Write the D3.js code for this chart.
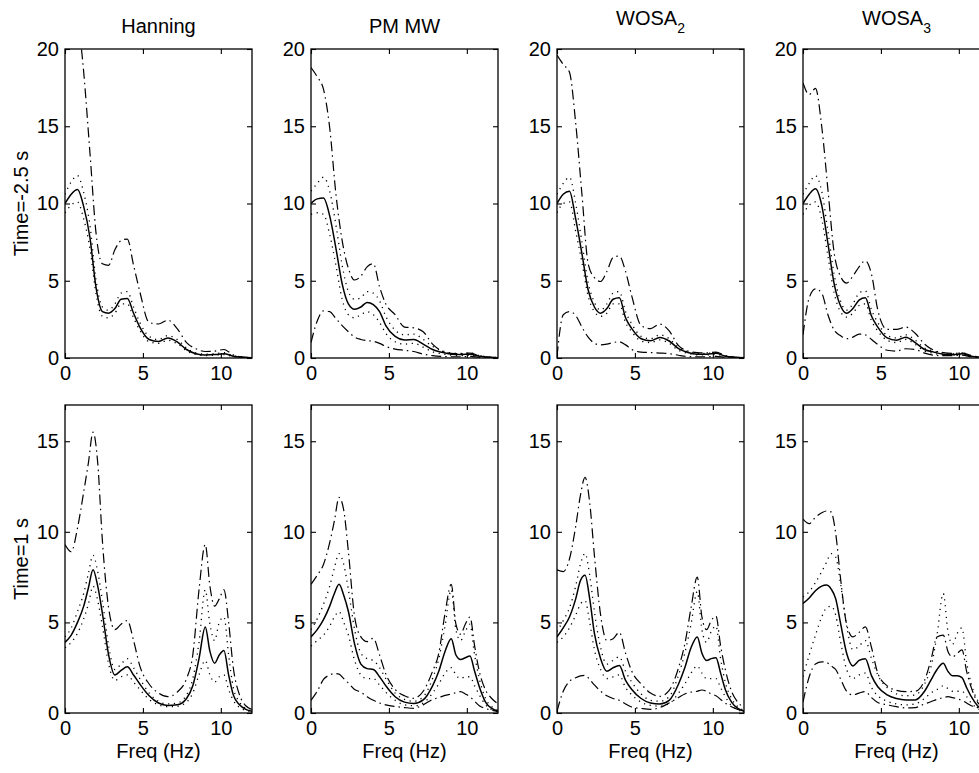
<!DOCTYPE html>
<html>
<head>
<meta charset="utf-8">
<script src="https://cdn.jsdelivr.net/npm/d3@7"></script>
<style>
  body { margin: 0; background: #fff; }
  text { font-family: "Liberation Sans", Arial, Helvetica, sans-serif; fill: #000; }
</style>
</head>
<body>
<svg id="chart" width="979" height="773"></svg>
<script>
// panel titles, subscripts and row labels
const methods = ["Hanning", "PM MW", "WOSA", "WOSA"];
const methodSubs = ["", "", "2", "3"];
const rowLabels = ["Time=-2.5 s", "Time=1 s"];
const yMax = [20, 17];
const yTickVals = [[0, 5, 10, 15, 20], [0, 5, 10, 15]];
const xTickVals = [0, 5, 10];

// frequency grids (Hz)
const freqTop = [0,0.4,0.8,1.2,1.6,2.0,2.4,2.8,3.2,3.6,4.0,4.4,4.8,5.4,6.0,6.6,7.2,7.8,8.4,9.0,9.6,10.2,10.8,11.4,12];
const freqBot = [0,0.4,0.8,1.2,1.5,1.8,2.1,2.4,2.8,3.2,3.6,4.0,4.4,4.8,5.4,6.0,6.6,7.2,7.8,8.2,8.6,9.0,9.3,9.6,9.9,10.2,10.5,10.8,11.2,11.6,12];

// top row (Time=-2.5 s), one row per method
const meanTop = [
  [10.0,10.6,10.9,9.8,7.8,4.5,3.0,2.9,3.2,3.8,3.85,2.9,2.0,1.2,1.07,1.3,1.05,0.55,0.28,0.2,0.22,0.28,0.12,0.05,0.02],
  [10.0,10.3,10.35,9.2,7.1,4.8,3.5,3.15,3.3,3.6,3.45,3.0,2.1,1.4,1.17,1.2,0.9,0.55,0.37,0.25,0.22,0.25,0.12,0.05,0.02],
  [10.0,10.6,10.8,9.0,6.75,4.4,3.3,2.9,3.2,3.8,3.9,2.6,1.9,1.25,1.12,1.33,1.1,0.6,0.35,0.25,0.25,0.3,0.12,0.05,0.02],
  [10.0,10.6,10.95,9.9,7.4,4.8,3.4,2.9,3.2,3.75,3.9,2.7,2.0,1.3,1.15,1.35,1.0,0.55,0.38,0.25,0.22,0.28,0.12,0.05,0.02]
];
const dashHiTop = [
  [30,27,22.5,18.5,13.3,8.0,6.1,6.0,7.0,7.6,7.7,6.0,4.3,2.3,2.2,2.45,1.9,1.0,0.6,0.42,0.45,0.55,0.2,0.06,0.02],
  [18.8,18.2,17.4,14.9,10.6,7.6,5.8,5.05,5.3,5.9,6.1,4.6,3.5,2.8,2.0,1.95,1.7,0.9,0.45,0.3,0.28,0.32,0.15,0.06,0.02],
  [19.6,19.0,18.5,15.2,10.6,6.1,5.2,4.95,5.6,6.5,6.6,5.6,4.0,2.1,1.9,2.2,1.75,0.8,0.45,0.35,0.33,0.38,0.15,0.05,0.02],
  [17.8,17.05,17.45,15.0,10.9,6.8,5.3,4.85,5.3,5.9,6.3,5.4,3.1,1.85,1.85,2.0,1.6,0.9,0.5,0.35,0.3,0.33,0.15,0.05,0.02]
];
const dashLoTop = [
  null,
  [1.0,2.4,3.05,3.0,2.55,2.1,1.7,1.35,1.2,1.12,1.08,0.95,0.75,0.58,0.5,0.42,0.25,0.15,0.1,0.08,0.08,0.1,0.05,0.02,0.01],
  [0.1,2.8,3.0,2.75,2.0,1.35,0.95,0.85,0.9,1.0,1.05,0.85,0.55,0.38,0.35,0.32,0.28,0.18,0.1,0.08,0.08,0.1,0.05,0.02,0.01],
  [1.5,3.9,4.48,4.2,2.8,1.8,1.45,1.25,1.35,1.55,1.5,1.2,0.87,0.5,0.45,0.6,0.55,0.32,0.18,0.15,0.15,0.18,0.08,0.03,0.01]
];
const dotHiTop = [
  [10.6,11.4,11.8,10.7,8.6,5.0,3.3,3.1,3.5,4.2,4.3,3.3,2.3,1.4,1.2,1.45,1.2,0.65,0.33,0.25,0.27,0.35,0.15,0.06,0.03],
  [10.8,11.3,11.7,10.8,8.6,6.0,4.3,3.8,3.9,4.3,4.2,3.7,2.7,1.8,1.5,1.55,1.2,0.75,0.48,0.32,0.3,0.33,0.16,0.07,0.03],
  [10.6,11.3,11.7,10.0,7.5,4.9,3.6,3.1,3.5,4.2,4.3,3.0,2.2,1.4,1.25,1.5,1.25,0.7,0.4,0.3,0.3,0.35,0.15,0.06,0.03],
  [10.6,11.3,11.8,10.8,8.2,5.4,3.7,3.1,3.5,4.2,4.35,3.1,2.3,1.45,1.3,1.5,1.15,0.65,0.45,0.3,0.27,0.34,0.15,0.06,0.03]
];
const dotLoTop = [
  [9.4,9.9,10.1,9.0,7.1,4.1,2.7,2.6,2.9,3.5,3.5,2.6,1.8,1.05,0.95,1.15,0.92,0.47,0.23,0.16,0.18,0.22,0.09,0.04,0.01],
  [9.3,9.4,9.3,8.0,6.0,3.8,2.8,2.6,2.8,3.0,2.8,2.3,1.6,1.05,0.9,0.95,0.7,0.4,0.27,0.18,0.16,0.18,0.08,0.03,0.01],
  [9.4,10.0,10.1,8.2,6.2,4.0,3.0,2.7,2.9,3.5,3.5,2.3,1.7,1.1,1.0,1.17,0.95,0.5,0.3,0.2,0.2,0.25,0.1,0.04,0.01],
  [9.3,9.9,10.1,9.0,6.6,4.2,3.0,2.65,2.9,3.4,3.5,2.4,1.75,1.15,1.0,1.2,0.88,0.45,0.3,0.2,0.18,0.22,0.09,0.04,0.01]
];

// bottom row (Time=1 s)
const meanBot = [
  [3.9,4.3,5.0,5.9,6.9,7.9,7.0,5.5,3.2,2.1,2.35,2.55,2.1,1.6,0.95,0.55,0.42,0.45,0.8,1.5,3.0,4.75,3.4,2.75,3.2,3.45,2.1,1.0,0.45,0.2,0.1],
  [4.2,4.6,5.15,5.9,6.6,7.1,6.5,5.6,3.8,2.7,2.45,2.4,2.0,1.5,0.9,0.6,0.52,0.72,1.5,2.3,3.4,4.1,3.2,2.95,3.05,3.15,2.3,1.45,0.6,0.25,0.1],
  [4.2,4.7,5.3,6.3,7.3,7.6,6.3,4.4,3.0,2.3,2.5,2.62,1.8,1.3,0.8,0.55,0.5,0.7,1.6,2.5,3.6,4.2,3.3,2.9,3.0,3.05,2.2,1.3,0.6,0.25,0.1],
  [6.05,6.35,6.75,7.0,7.06,6.85,6.3,5.0,3.3,2.6,2.9,3.0,2.05,1.45,1.0,0.8,0.72,0.72,1.2,1.8,2.4,2.74,2.3,2.05,2.05,1.95,1.4,0.9,0.4,0.15,0.06]
];
const dashHiBot = [
  [9.3,8.9,10.2,12.2,13.8,15.5,13.8,9.5,5.8,4.6,4.9,5.1,4.0,2.6,1.6,1.1,0.9,1.15,1.9,3.2,6.8,9.3,7.0,5.9,6.3,6.8,5.0,2.5,1.0,0.4,0.2],
  [7.1,7.6,8.2,9.4,10.6,11.9,11.2,8.9,5.3,4.2,3.94,4.12,3.2,2.15,1.3,0.95,0.81,1.2,2.3,3.3,5.5,7.1,4.9,4.35,4.9,5.3,3.7,2.3,1.27,0.8,0.5],
  [7.9,7.8,8.5,10.3,12.0,13.0,11.6,8.7,5.4,4.0,4.1,4.45,3.3,2.3,1.6,1.1,0.92,1.25,2.5,3.8,5.8,7.5,5.3,4.6,5.1,5.35,3.7,2.4,1.2,0.6,0.3],
  [10.7,10.45,10.8,11.05,11.15,11.1,9.9,7.5,4.9,4.2,4.45,4.75,3.6,2.2,1.5,1.25,1.18,1.2,1.8,2.9,4.2,4.3,3.4,3.1,3.3,3.48,2.3,1.4,0.6,0.3,0.15]
];
const dashLoBot = [
  null,
  [0.7,1.2,1.85,2.1,2.18,2.15,1.9,1.65,1.3,1.15,0.9,0.7,0.55,0.45,0.36,0.3,0.26,0.45,0.75,0.85,0.97,1.05,1.12,1.18,1.05,0.9,0.65,0.4,0.25,0.15,0.1],
  [0.1,1.2,1.75,1.95,2.05,2.08,1.85,1.55,1.2,0.95,0.8,0.7,0.5,0.33,0.25,0.2,0.3,0.55,0.85,1.05,1.15,1.2,1.27,1.2,1.05,0.95,0.75,0.55,0.35,0.2,0.1],
  [0.6,2.0,2.7,2.82,2.8,2.6,2.4,1.9,1.2,1.0,1.1,1.18,0.85,0.58,0.45,0.35,0.28,0.3,0.5,0.62,0.75,0.85,0.9,0.85,0.78,0.7,0.55,0.4,0.3,0.2,0.1]
];
const dotHiBot = [
  [4.2,4.7,5.6,6.6,7.7,8.7,7.8,6.2,3.7,2.4,2.7,3.0,2.5,1.9,1.1,0.65,0.5,0.55,1.0,1.9,3.9,6.8,4.9,4.0,5.0,5.3,3.2,1.4,0.6,0.25,0.12],
  [4.6,5.2,6.0,7.0,8.0,8.8,8.2,6.8,4.6,3.3,3.0,2.9,2.5,1.9,1.1,0.75,0.65,0.9,1.9,3.0,4.8,6.8,4.6,4.0,4.5,4.9,3.2,1.9,0.8,0.35,0.15],
  [4.5,5.1,5.8,7.0,8.2,8.8,7.6,5.6,3.6,2.7,2.9,3.1,2.3,1.7,1.05,0.7,0.65,0.9,2.1,3.3,4.9,6.7,4.6,3.9,4.5,4.8,3.0,1.7,0.8,0.35,0.15],
  [6.4,6.7,7.2,7.8,8.3,8.8,8.6,7.2,4.8,3.5,3.7,4.0,3.0,2.1,1.4,1.05,0.95,1.0,1.6,2.5,4.3,6.6,4.5,3.8,4.4,4.7,2.8,1.6,0.7,0.3,0.12]
];
const dotLoBot = [
  [3.6,3.9,4.4,5.2,6.0,7.0,6.2,4.8,2.7,1.8,2.0,2.1,1.7,1.3,0.75,0.45,0.35,0.37,0.6,1.1,2.1,2.9,2.1,1.7,2.0,2.1,1.3,0.7,0.3,0.15,0.07],
  [3.7,4.0,4.3,4.8,5.3,5.6,5.0,4.3,2.9,2.1,1.9,1.9,1.55,1.15,0.7,0.45,0.4,0.55,1.1,1.6,2.2,2.5,2.1,1.9,2.0,2.0,1.5,1.0,0.45,0.18,0.07],
  [3.9,4.2,4.7,5.4,6.0,6.2,5.0,3.5,2.4,1.9,2.0,2.1,1.4,1.0,0.6,0.42,0.38,0.52,1.1,1.6,2.2,2.6,2.2,1.9,1.9,1.9,1.4,0.9,0.4,0.18,0.07],
  [2.0,3.2,4.3,5.3,5.8,5.9,5.4,4.0,2.4,1.9,2.1,2.2,1.4,0.95,0.65,0.5,0.45,0.5,0.8,1.1,1.3,1.5,1.35,1.2,1.2,1.2,0.9,0.55,0.25,0.1,0.05]
];

const rows = [
  { freq: freqTop, mean: meanTop, dashHi: dashHiTop, dashLo: dashLoTop, dotHi: dotHiTop, dotLo: dotLoTop },
  { freq: freqBot, mean: meanBot, dashHi: dashHiBot, dashLo: dashLoBot, dotHi: dotHiBot, dotLo: dotLoBot }
];

const svg = d3.select("#chart");
const panelW = 187, panelStep = 246, panelLeft0 = 65;
const rowTop = [49, 405], rowBottom = [358, 713];

const styles = {
  dotHi:  { dash: "1.2,4.6", w: 1.3 },
  dotLo:  { dash: "1.2,4.6", w: 1.3 },
  dashHi: { dash: "10,4,1.5,4", w: 1.2 },
  dashLo: { dash: "10,4,1.5,4", w: 1.2 },
  mean:   { dash: null, w: 1.5 }
};

rows.forEach((rd, r) => {
  methods.forEach((m, c) => {
    const left = panelLeft0 + c * panelStep;
    const x = d3.scaleLinear().domain([0, 12]).range([left, left + panelW]);
    const y = d3.scaleLinear().domain([0, yMax[r]]).range([rowBottom[r], rowTop[r]]);
    const g = svg.append("g");

    const clipId = "clip-" + r + "-" + c;
    svg.append("clipPath").attr("id", clipId)
      .append("rect")
      .attr("x", x(0)).attr("y", y(yMax[r]))
      .attr("width", x(12) - x(0)).attr("height", y(0) - y(yMax[r]));

    const line = d3.line()
      .x((d, i) => x(rd.freq[i]))
      .y(d => y(d))
      .curve(d3.curveMonotoneX);

    const lines = g.append("g").attr("clip-path", "url(#" + clipId + ")");
    Object.keys(styles).forEach(k => {
      const vals = rd[k][c];
      if (!vals) return;
      lines.append("path")
        .attr("d", line(vals))
        .attr("fill", "none")
        .attr("stroke", "#000")
        .attr("stroke-width", styles[k].w)
        .attr("stroke-dasharray", styles[k].dash)
        .attr("stroke-linecap", "butt");
    });

    // box
    g.append("rect")
      .attr("x", x(0)).attr("y", y(yMax[r]))
      .attr("width", x(12) - x(0)).attr("height", y(0) - y(yMax[r]))
      .attr("fill", "none").attr("stroke", "#000").attr("stroke-width", 1.3);

    // axes with inward ticks, mirrored on top and right
    const ax = g.append("g").attr("transform", `translate(0,${y(0)})`)
      .call(d3.axisBottom(x).tickValues(xTickVals).tickSize(-5).tickPadding(8).tickFormat(d3.format("d")));
    const axTop = g.append("g").attr("transform", `translate(0,${y(yMax[r])})`)
      .call(d3.axisTop(x).tickValues(xTickVals).tickSize(-5).tickFormat(""));
    const ay = g.append("g").attr("transform", `translate(${x(0)},0)`)
      .call(d3.axisLeft(y).tickValues(yTickVals[r]).tickSize(-5).tickPadding(6).tickFormat(d3.format("d")));
    const ayR = g.append("g").attr("transform", `translate(${x(12)},0)`)
      .call(d3.axisRight(y).tickValues(yTickVals[r]).tickSize(-5).tickFormat(""));
    [ax, axTop, ay, ayR].forEach(a => {
      a.select(".domain").remove();
      a.selectAll("line").attr("stroke", "#000").attr("stroke-width", 1.1);
      a.selectAll("text").attr("font-size", 20)
        .attr("font-family", "'Liberation Sans', Arial, sans-serif").attr("fill", "#000");
    });

    // titles
    if (r === 0) {
      const t = svg.append("text")
        .attr("x", left + panelW / 2)
        .attr("y", methodSubs[c] ? 25 : 33)
        .attr("text-anchor", "middle")
        .attr("font-size", 20)
        .text(m);
      if (methodSubs[c]) {
        t.append("tspan").attr("dy", 8).attr("font-size", 14).text(methodSubs[c]);
      }
    }
    if (r === 1) {
      svg.append("text")
        .attr("x", left + panelW / 2)
        .attr("y", 758)
        .attr("text-anchor", "middle")
        .attr("font-size", 20)
        .text("Freq (Hz)");
    }
    if (c === 0) {
      svg.append("text")
        .attr("transform", `translate(28,${(rowTop[r] + rowBottom[r]) / 2}) rotate(-90)`)
        .attr("text-anchor", "middle")
        .attr("font-size", 20)
        .text(rowLabels[r]);
    }
  });
});
</script>
</body>
</html>
